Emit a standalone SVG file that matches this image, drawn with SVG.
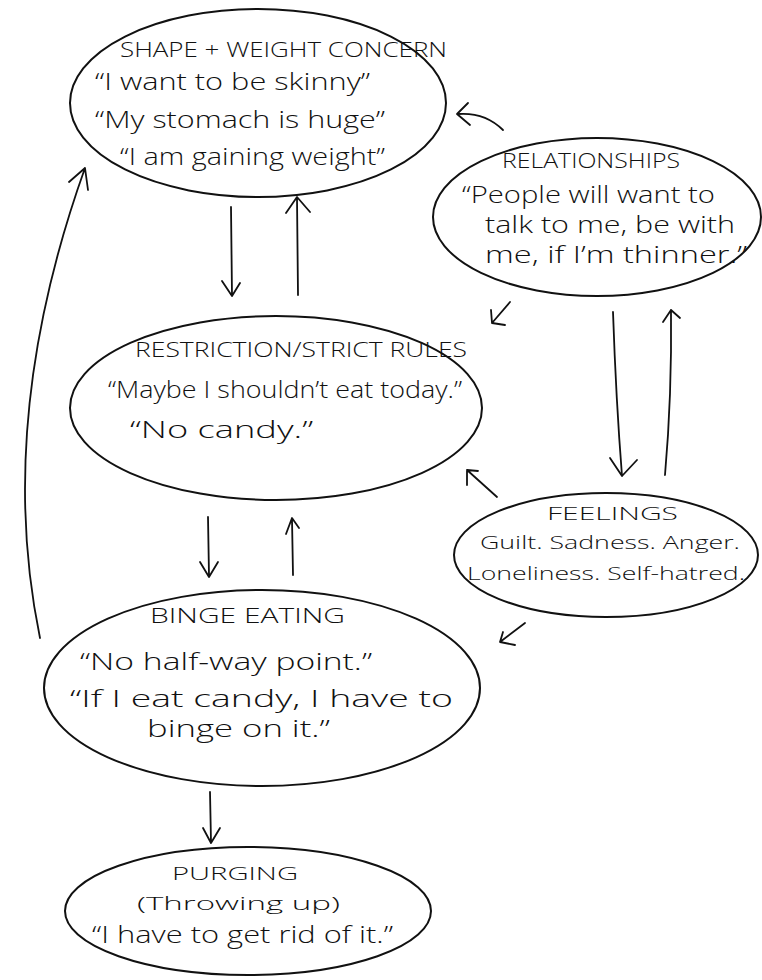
<svg xmlns="http://www.w3.org/2000/svg" width="762" height="980" viewBox="0 0 762 980">
<style>
.n{fill:none;stroke:#111;stroke-width:2}
.c path{fill:none;stroke:#111;stroke-width:1.8;stroke-linecap:round;stroke-linejoin:round}
text{font-family:"Open Sans","Liberation Sans",sans-serif;font-size:23px;fill:#111;font-weight:300}
.h{font-size:21px}
.s{font-size:19px}
</style>
<rect width="762" height="980" fill="#fff"/>
<g id="shape">
<ellipse class="n" cx="258" cy="103" rx="188" ry="94"/>
<text class="h" x="120" y="57" textLength="327" lengthAdjust="spacingAndGlyphs">SHAPE + WEIGHT CONCERN</text>
<text x="95" y="90" textLength="275" lengthAdjust="spacingAndGlyphs">“I want to be skinny”</text>
<text x="95" y="128" textLength="290" lengthAdjust="spacingAndGlyphs">“My stomach is huge”</text>
<text x="120" y="165" textLength="265" lengthAdjust="spacingAndGlyphs">“I am gaining weight”</text>
</g>
<g id="relationships">
<ellipse class="n" cx="597" cy="217" rx="164" ry="79"/>
<text class="h" x="502" y="168" textLength="178" lengthAdjust="spacingAndGlyphs">RELATIONSHIPS</text>
<text x="462" y="203" textLength="253" lengthAdjust="spacingAndGlyphs">“People will want to</text>
<text x="485" y="233" textLength="250" lengthAdjust="spacingAndGlyphs">talk to me, be with</text>
<text x="485" y="263" textLength="262" lengthAdjust="spacingAndGlyphs">me, if I’m thinner.”</text>
</g>
<g id="restriction">
<ellipse class="n" cx="276" cy="408" rx="206" ry="92"/>
<text class="h" x="135" y="357" textLength="332" lengthAdjust="spacingAndGlyphs">RESTRICTION/STRICT RULES</text>
<text x="108" y="398" textLength="354" lengthAdjust="spacingAndGlyphs">“Maybe I shouldn’t eat today.”</text>
<text x="130" y="438" textLength="183" lengthAdjust="spacingAndGlyphs">“No candy.”</text>
</g>
<g id="feelings">
<ellipse class="n" cx="606" cy="555" rx="152" ry="62"/>
<text class="s" x="547" y="520" textLength="131" lengthAdjust="spacingAndGlyphs">FEELINGS</text>
<text class="s" x="480" y="549" textLength="260" lengthAdjust="spacingAndGlyphs">Guilt. Sadness. Anger.</text>
<text class="s" x="467" y="580" textLength="278" lengthAdjust="spacingAndGlyphs">Loneliness. Self-hatred.</text>
</g>
<g id="binge">
<ellipse class="n" cx="262" cy="688" rx="218" ry="98"/>
<text class="h" x="150" y="623" textLength="195" lengthAdjust="spacingAndGlyphs">BINGE EATING</text>
<text x="80" y="670" textLength="292" lengthAdjust="spacingAndGlyphs">“No half-way point.”</text>
<text x="70" y="707" textLength="383" lengthAdjust="spacingAndGlyphs">“If I eat candy, I have to</text>
<text x="147" y="737" textLength="183" lengthAdjust="spacingAndGlyphs">binge on it.”</text>
</g>
<g id="purging">
<ellipse class="n" cx="248" cy="911" rx="183" ry="64"/>
<text class="s" x="172" y="880" textLength="126" lengthAdjust="spacingAndGlyphs">PURGING</text>
<text class="s" x="137" y="910" textLength="203" lengthAdjust="spacingAndGlyphs">(Throwing up)</text>
<text x="92" y="943" textLength="301" lengthAdjust="spacingAndGlyphs">“I have to get rid of it.”</text>
</g>
<g class="c" id="connectors">
<path d="M231 207 L232 295 M222 281 L232 296 L240 283"/>
<path d="M298 295 L297 198 M286 213 L297 197 L310 212"/>
<path d="M503 130 Q485 112 458 114 M468 103 L457 114 L470 125"/>
<path d="M510 302 L492 323 M491 310 L492 323 L505 325"/>
<path d="M613 312 Q616 400 622 476 M610 458 L622 476 L637 460"/>
<path d="M665 475 Q672 395 671 310 M663 322 L671 310 L680 318"/>
<path d="M497 497 L467 470 M467 485 L467 470 L478 471"/>
<path d="M525 623 L500 642 M503 632 L500 642 L515 645"/>
<path d="M208 517 L209 576 M200 562 L209 577 L218 562"/>
<path d="M293 575 L292 519 M286 534 L292 518 L299 528"/>
<path d="M40 638 Q-5 420 85 168 M69 182 L85 168 L88 190"/>
<path d="M210 792 L211 842 M203 828 L211 843 L220 828"/>
</g>
</svg>
